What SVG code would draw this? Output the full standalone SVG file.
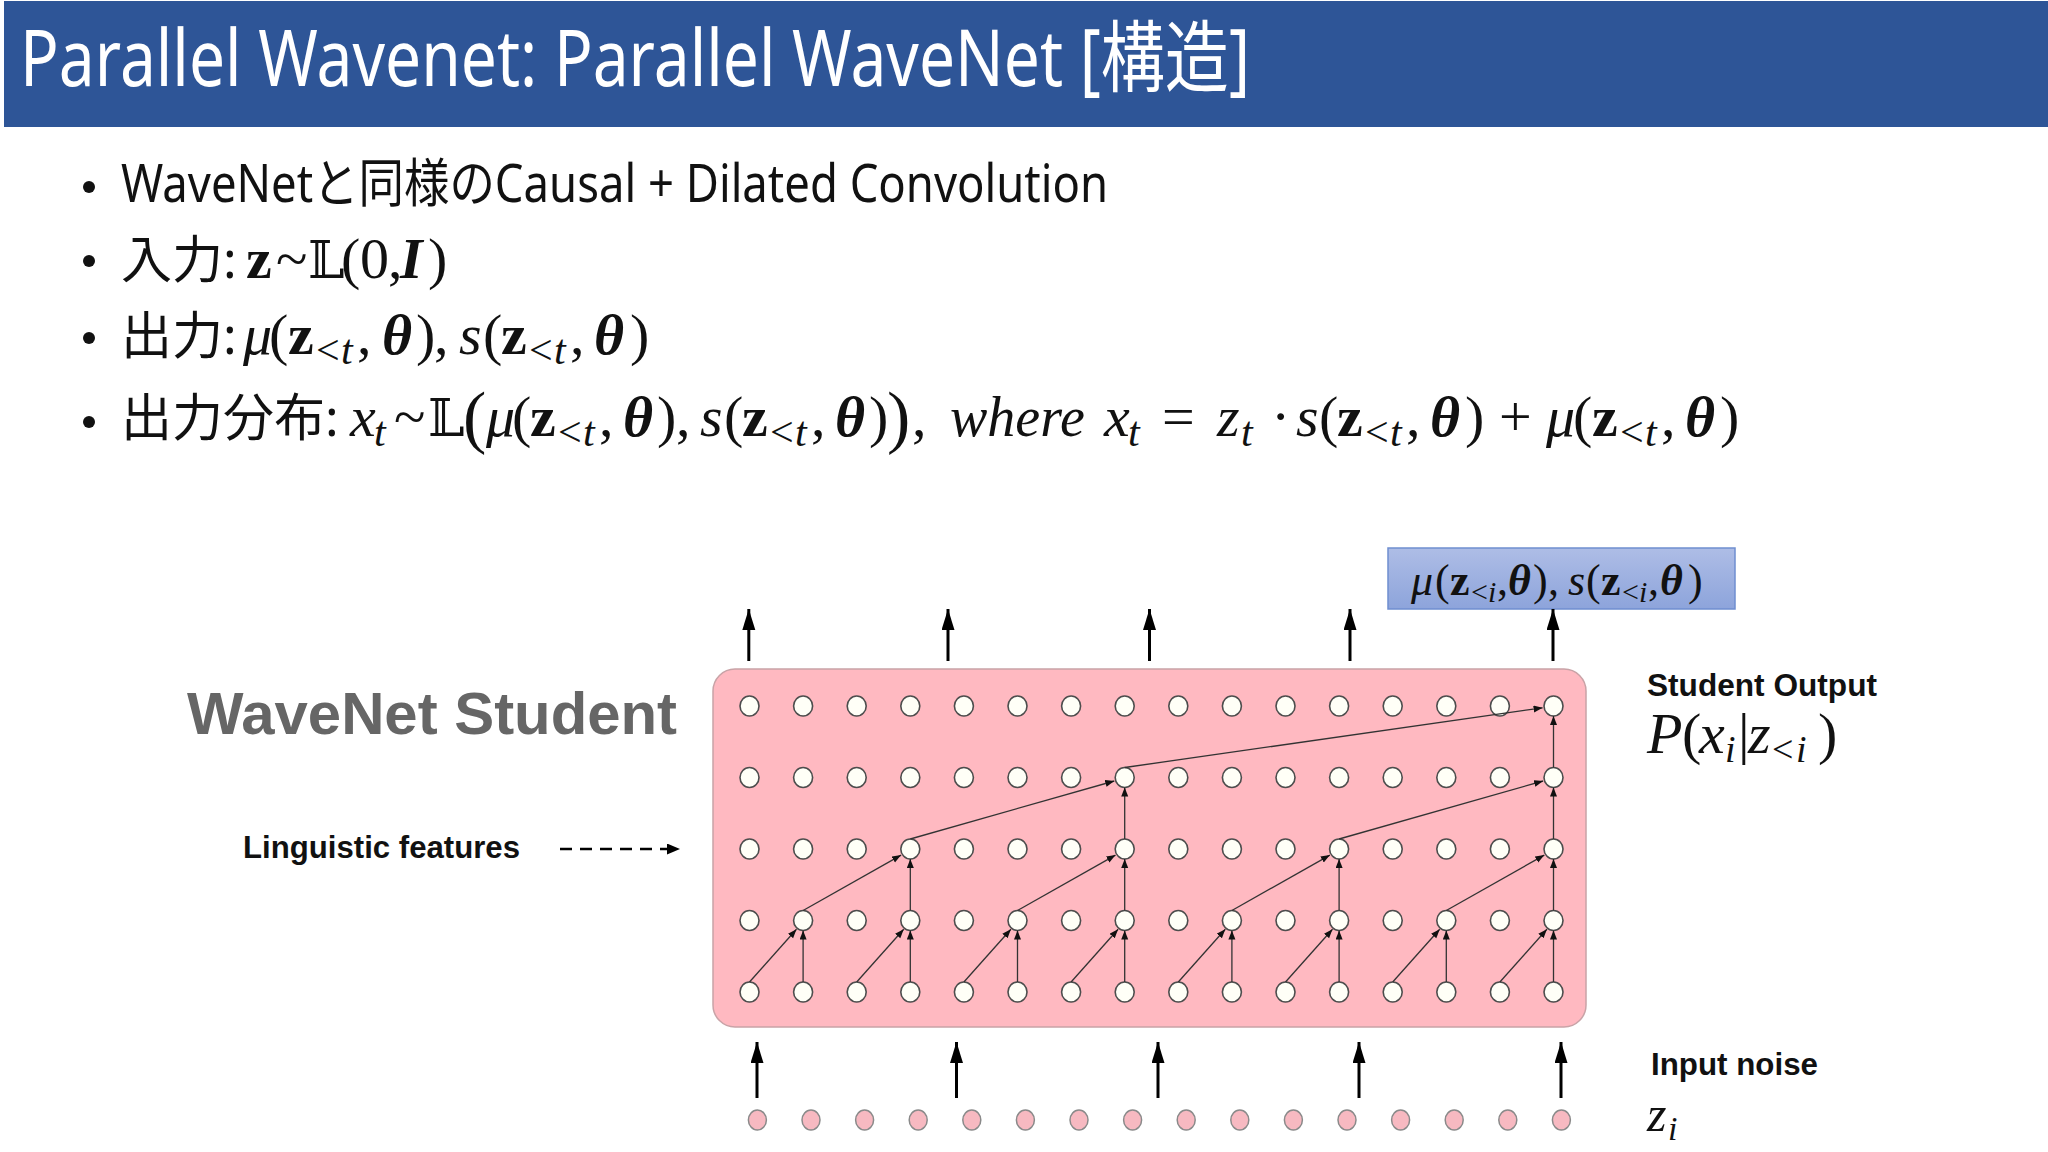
<svg xmlns="http://www.w3.org/2000/svg" width="2048" height="1152" viewBox="0 0 2048 1152">
<style>
.jp{font-family:"Noto Sans","Noto Sans CJK JP",sans-serif;fill:#111}
.m{font-family:"Liberation Serif","DejaVu Serif",serif;font-size:58px;fill:#111}
.i{font-style:italic}
.b{font-weight:bold}
.ds{font-family:"DejaVu Serif","DejaVu Sans",serif;font-size:52px}
.sub{font-size:42px}
.hv{font-family:"Liberation Sans",Arial,sans-serif;font-weight:bold}
.gn{fill:#FFFFF7;stroke:#4d4d4d;stroke-width:1.6}
.pn{fill:#F7B9C1;stroke:#8a8a8a;stroke-width:1.5}
.e{stroke:#333;stroke-width:1.3;fill:none;marker-end:url(#sa)}
.big{stroke:#000;stroke-width:3;fill:none;marker-end:url(#ba)}
</style>
<defs>
<marker id="sa" markerUnits="userSpaceOnUse" markerWidth="10" markerHeight="8" refX="9" refY="3.5" orient="auto"><path d="M0,0 L9,3.5 L0,7 z" fill="#111"/></marker>
<marker id="ba" markerUnits="userSpaceOnUse" markerWidth="22" markerHeight="14" refX="21" refY="6.5" orient="auto"><path d="M0,0 L21,6.5 L0,13 z" fill="#000"/></marker>
<marker id="da" markerUnits="userSpaceOnUse" markerWidth="14" markerHeight="12" refX="13" refY="5.5" orient="auto"><path d="M0,0 L13,5.5 L0,11 z" fill="#000"/></marker>
<linearGradient id="bg" x1="0" y1="0" x2="0" y2="1"><stop offset="0" stop-color="#AEBDE6"/><stop offset="1" stop-color="#8DA4DB"/></linearGradient>
</defs>
<rect x="0" y="0" width="2048" height="1152" fill="#fff"/>
<g id="header">
<rect x="4" y="1" width="2044" height="126" fill="#2E5597"/>
<text x="20" y="86" font-family="'Noto Sans','Noto Sans CJK JP',sans-serif" font-size="78" fill="#fff" textLength="1230" lengthAdjust="spacingAndGlyphs">Parallel Wavenet: Parallel WaveNet [構造]</text>
</g>
<g id="bullets">
<circle cx="89" cy="187" r="6" fill="#111"/>
<circle cx="89" cy="261" r="6" fill="#111"/>
<circle cx="89" cy="338" r="6" fill="#111"/>
<circle cx="89" cy="422" r="6" fill="#111"/>
<text class="jp" x="121" y="202" font-size="52" textLength="987" lengthAdjust="spacingAndGlyphs">WaveNetと同様のCausal + Dilated Convolution</text>
<text class="jp" x="121" y="278" font-size="51">入力:</text>
<text class="m" y="278"><tspan class="b" x="246">z</tspan><tspan x="276">~</tspan><tspan class="ds" x="308">𝕃</tspan><tspan x="341">(</tspan><tspan x="360">0</tspan><tspan x="388">,</tspan><tspan class="b i" x="400">I</tspan><tspan x="428">)</tspan></text>
<text class="jp" x="121" y="354" font-size="51">出力:</text>
<text class="m"><tspan class="i" x="243" y="354">μ</tspan><tspan x="269" y="354">(</tspan><tspan class="b" x="288" y="354">z</tspan><tspan class="sub" x="316" y="364">&lt;</tspan><tspan class="sub i" x="341" y="364">t</tspan><tspan x="357" y="354">,</tspan><tspan class="b i" x="382" y="354">θ</tspan><tspan x="416" y="354">)</tspan><tspan x="434" y="354">,</tspan><tspan class="i" x="459" y="354">s</tspan><tspan x="483" y="354">(</tspan><tspan class="b" x="501" y="354">z</tspan><tspan class="sub" x="529" y="364">&lt;</tspan><tspan class="sub i" x="554" y="364">t</tspan><tspan x="570" y="354">,</tspan><tspan class="b i" x="594" y="354">θ</tspan><tspan x="630" y="354">)</tspan></text>
<text class="jp" x="121" y="436" font-size="51">出力分布:</text>
<text class="m"><tspan class="i" x="350" y="436">x</tspan><tspan class="sub i" x="374" y="446">t</tspan><tspan x="394" y="436">~</tspan><tspan class="ds" x="428" y="436">𝕃</tspan><tspan x="463" y="440" style="font-size:70px">(</tspan><tspan class="i" x="486" y="436">μ</tspan><tspan x="512" y="436">(</tspan><tspan class="b" x="530" y="436">z</tspan><tspan class="sub" x="558" y="446">&lt;</tspan><tspan class="sub i" x="583" y="446">t</tspan><tspan x="599" y="436">,</tspan><tspan class="b i" x="623" y="436">θ</tspan><tspan x="657" y="436">)</tspan><tspan x="676" y="436">,</tspan><tspan class="i" x="700" y="436">s</tspan><tspan x="724" y="436">(</tspan><tspan class="b" x="742" y="436">z</tspan><tspan class="sub" x="770" y="446">&lt;</tspan><tspan class="sub i" x="795" y="446">t</tspan><tspan x="811" y="436">,</tspan><tspan class="b i" x="835" y="436">θ</tspan><tspan x="869" y="436">)</tspan><tspan x="887" y="440" style="font-size:70px">)</tspan><tspan x="912" y="436">,</tspan><tspan class="i" x="950" y="436" style="font-size:56px">where</tspan><tspan class="i" x="1104" y="436">x</tspan><tspan class="sub i" x="1128" y="446">t</tspan><tspan x="1162" y="436">=</tspan><tspan class="i" x="1217" y="436">z</tspan><tspan class="sub i" x="1241" y="446">t</tspan><tspan x="1271" y="436">·</tspan><tspan class="i" x="1296" y="436">s</tspan><tspan x="1319" y="436">(</tspan><tspan class="b" x="1337" y="436">z</tspan><tspan class="sub" x="1365" y="446">&lt;</tspan><tspan class="sub i" x="1390" y="446">t</tspan><tspan x="1406" y="436">,</tspan><tspan class="b i" x="1430" y="436">θ</tspan><tspan x="1465" y="436">)</tspan><tspan x="1499" y="436">+</tspan><tspan class="i" x="1546" y="436">μ</tspan><tspan x="1573" y="436">(</tspan><tspan class="b" x="1592" y="436">z</tspan><tspan class="sub" x="1620" y="446">&lt;</tspan><tspan class="sub i" x="1645" y="446">t</tspan><tspan x="1661" y="436">,</tspan><tspan class="b i" x="1685" y="436">θ</tspan><tspan x="1720" y="436">)</tspan></text>
</g>
<g id="student-box"><rect x="713" y="669" width="873" height="358" rx="22" fill="#FFB9C1" stroke="#c9a3a7" stroke-width="1.5"/></g>
<g id="output-box">
<rect x="1388" y="548" width="347" height="61" fill="url(#bg)" stroke="#6F8ED0" stroke-width="1.5"/>
<text class="m" style="font-size:44px"><tspan class="i" x="1411" y="595">μ</tspan><tspan x="1435" y="595">(</tspan><tspan class="b" x="1450" y="595">z</tspan><tspan x="1471" y="602" style="font-size:30px">&lt;</tspan><tspan class="i" x="1488" y="602" style="font-size:30px">i</tspan><tspan x="1497" y="595">,</tspan><tspan class="b i" x="1508" y="595">θ</tspan><tspan x="1533" y="595">)</tspan><tspan x="1548" y="595">,</tspan><tspan class="i" x="1568" y="595">s</tspan><tspan x="1586" y="595">(</tspan><tspan class="b" x="1601" y="595">z</tspan><tspan x="1622" y="602" style="font-size:30px">&lt;</tspan><tspan class="i" x="1639" y="602" style="font-size:30px">i</tspan><tspan x="1648" y="595">,</tspan><tspan class="b i" x="1660" y="595">θ</tspan><tspan x="1688" y="595">)</tspan></text>
</g>
<g id="label-wavenet-student"><text class="hv" x="187" y="734" font-size="60" fill="#666" textLength="490" lengthAdjust="spacingAndGlyphs">WaveNet Student</text></g>
<g id="label-linguistic"><text class="hv" x="243" y="858" font-size="31" fill="#111" textLength="277" lengthAdjust="spacingAndGlyphs">Linguistic features</text></g>
<g id="label-student-output"><text class="hv" x="1647" y="696" font-size="31" fill="#111" textLength="230" lengthAdjust="spacingAndGlyphs">Student Output</text></g>
<g id="label-p"><text class="m" style="font-size:58px"><tspan class="i" x="1647" y="753">P</tspan><tspan x="1682" y="753">(</tspan><tspan class="i" x="1699" y="753">x</tspan><tspan class="i" x="1725" y="762" style="font-size:38px">i</tspan><tspan x="1738" y="753">|</tspan><tspan class="i" x="1748" y="753">z</tspan><tspan x="1772" y="762" style="font-size:38px">&lt;</tspan><tspan class="i" x="1796" y="762" style="font-size:38px">i</tspan><tspan x="1818" y="753">)</tspan></text></g>
<g id="label-input-noise"><text class="hv" x="1651" y="1075" font-size="31" fill="#111" textLength="167" lengthAdjust="spacingAndGlyphs">Input noise</text></g>
<g id="label-zi"><text class="m i" style="font-size:50px"><tspan x="1647" y="1131">z</tspan><tspan x="1668" y="1140" style="font-size:34px">i</tspan></text></g>
<g id="grid-nodes">
<g id="g-r4-c0"><ellipse cx="749.5" cy="706" rx="9.5" ry="10" class="gn"/></g>
<g id="g-r4-c1"><ellipse cx="803.1" cy="706" rx="9.5" ry="10" class="gn"/></g>
<g id="g-r4-c2"><ellipse cx="856.7" cy="706" rx="9.5" ry="10" class="gn"/></g>
<g id="g-r4-c3"><ellipse cx="910.3" cy="706" rx="9.5" ry="10" class="gn"/></g>
<g id="g-r4-c4"><ellipse cx="963.9" cy="706" rx="9.5" ry="10" class="gn"/></g>
<g id="g-r4-c5"><ellipse cx="1017.5" cy="706" rx="9.5" ry="10" class="gn"/></g>
<g id="g-r4-c6"><ellipse cx="1071.1" cy="706" rx="9.5" ry="10" class="gn"/></g>
<g id="g-r4-c7"><ellipse cx="1124.7" cy="706" rx="9.5" ry="10" class="gn"/></g>
<g id="g-r4-c8"><ellipse cx="1178.3" cy="706" rx="9.5" ry="10" class="gn"/></g>
<g id="g-r4-c9"><ellipse cx="1231.9" cy="706" rx="9.5" ry="10" class="gn"/></g>
<g id="g-r4-c10"><ellipse cx="1285.5" cy="706" rx="9.5" ry="10" class="gn"/></g>
<g id="g-r4-c11"><ellipse cx="1339.1" cy="706" rx="9.5" ry="10" class="gn"/></g>
<g id="g-r4-c12"><ellipse cx="1392.7" cy="706" rx="9.5" ry="10" class="gn"/></g>
<g id="g-r4-c13"><ellipse cx="1446.3" cy="706" rx="9.5" ry="10" class="gn"/></g>
<g id="g-r4-c14"><ellipse cx="1499.9" cy="706" rx="9.5" ry="10" class="gn"/></g>
<g id="g-r4-c15"><ellipse cx="1553.5" cy="706" rx="9.5" ry="10" class="gn"/></g>
<g id="g-r3-c0"><ellipse cx="749.5" cy="777.5" rx="9.5" ry="10" class="gn"/></g>
<g id="g-r3-c1"><ellipse cx="803.1" cy="777.5" rx="9.5" ry="10" class="gn"/></g>
<g id="g-r3-c2"><ellipse cx="856.7" cy="777.5" rx="9.5" ry="10" class="gn"/></g>
<g id="g-r3-c3"><ellipse cx="910.3" cy="777.5" rx="9.5" ry="10" class="gn"/></g>
<g id="g-r3-c4"><ellipse cx="963.9" cy="777.5" rx="9.5" ry="10" class="gn"/></g>
<g id="g-r3-c5"><ellipse cx="1017.5" cy="777.5" rx="9.5" ry="10" class="gn"/></g>
<g id="g-r3-c6"><ellipse cx="1071.1" cy="777.5" rx="9.5" ry="10" class="gn"/></g>
<g id="g-r3-c7"><ellipse cx="1124.7" cy="777.5" rx="9.5" ry="10" class="gn"/></g>
<g id="g-r3-c8"><ellipse cx="1178.3" cy="777.5" rx="9.5" ry="10" class="gn"/></g>
<g id="g-r3-c9"><ellipse cx="1231.9" cy="777.5" rx="9.5" ry="10" class="gn"/></g>
<g id="g-r3-c10"><ellipse cx="1285.5" cy="777.5" rx="9.5" ry="10" class="gn"/></g>
<g id="g-r3-c11"><ellipse cx="1339.1" cy="777.5" rx="9.5" ry="10" class="gn"/></g>
<g id="g-r3-c12"><ellipse cx="1392.7" cy="777.5" rx="9.5" ry="10" class="gn"/></g>
<g id="g-r3-c13"><ellipse cx="1446.3" cy="777.5" rx="9.5" ry="10" class="gn"/></g>
<g id="g-r3-c14"><ellipse cx="1499.9" cy="777.5" rx="9.5" ry="10" class="gn"/></g>
<g id="g-r3-c15"><ellipse cx="1553.5" cy="777.5" rx="9.5" ry="10" class="gn"/></g>
<g id="g-r2-c0"><ellipse cx="749.5" cy="849" rx="9.5" ry="10" class="gn"/></g>
<g id="g-r2-c1"><ellipse cx="803.1" cy="849" rx="9.5" ry="10" class="gn"/></g>
<g id="g-r2-c2"><ellipse cx="856.7" cy="849" rx="9.5" ry="10" class="gn"/></g>
<g id="g-r2-c3"><ellipse cx="910.3" cy="849" rx="9.5" ry="10" class="gn"/></g>
<g id="g-r2-c4"><ellipse cx="963.9" cy="849" rx="9.5" ry="10" class="gn"/></g>
<g id="g-r2-c5"><ellipse cx="1017.5" cy="849" rx="9.5" ry="10" class="gn"/></g>
<g id="g-r2-c6"><ellipse cx="1071.1" cy="849" rx="9.5" ry="10" class="gn"/></g>
<g id="g-r2-c7"><ellipse cx="1124.7" cy="849" rx="9.5" ry="10" class="gn"/></g>
<g id="g-r2-c8"><ellipse cx="1178.3" cy="849" rx="9.5" ry="10" class="gn"/></g>
<g id="g-r2-c9"><ellipse cx="1231.9" cy="849" rx="9.5" ry="10" class="gn"/></g>
<g id="g-r2-c10"><ellipse cx="1285.5" cy="849" rx="9.5" ry="10" class="gn"/></g>
<g id="g-r2-c11"><ellipse cx="1339.1" cy="849" rx="9.5" ry="10" class="gn"/></g>
<g id="g-r2-c12"><ellipse cx="1392.7" cy="849" rx="9.5" ry="10" class="gn"/></g>
<g id="g-r2-c13"><ellipse cx="1446.3" cy="849" rx="9.5" ry="10" class="gn"/></g>
<g id="g-r2-c14"><ellipse cx="1499.9" cy="849" rx="9.5" ry="10" class="gn"/></g>
<g id="g-r2-c15"><ellipse cx="1553.5" cy="849" rx="9.5" ry="10" class="gn"/></g>
<g id="g-r1-c0"><ellipse cx="749.5" cy="920.5" rx="9.5" ry="10" class="gn"/></g>
<g id="g-r1-c1"><ellipse cx="803.1" cy="920.5" rx="9.5" ry="10" class="gn"/></g>
<g id="g-r1-c2"><ellipse cx="856.7" cy="920.5" rx="9.5" ry="10" class="gn"/></g>
<g id="g-r1-c3"><ellipse cx="910.3" cy="920.5" rx="9.5" ry="10" class="gn"/></g>
<g id="g-r1-c4"><ellipse cx="963.9" cy="920.5" rx="9.5" ry="10" class="gn"/></g>
<g id="g-r1-c5"><ellipse cx="1017.5" cy="920.5" rx="9.5" ry="10" class="gn"/></g>
<g id="g-r1-c6"><ellipse cx="1071.1" cy="920.5" rx="9.5" ry="10" class="gn"/></g>
<g id="g-r1-c7"><ellipse cx="1124.7" cy="920.5" rx="9.5" ry="10" class="gn"/></g>
<g id="g-r1-c8"><ellipse cx="1178.3" cy="920.5" rx="9.5" ry="10" class="gn"/></g>
<g id="g-r1-c9"><ellipse cx="1231.9" cy="920.5" rx="9.5" ry="10" class="gn"/></g>
<g id="g-r1-c10"><ellipse cx="1285.5" cy="920.5" rx="9.5" ry="10" class="gn"/></g>
<g id="g-r1-c11"><ellipse cx="1339.1" cy="920.5" rx="9.5" ry="10" class="gn"/></g>
<g id="g-r1-c12"><ellipse cx="1392.7" cy="920.5" rx="9.5" ry="10" class="gn"/></g>
<g id="g-r1-c13"><ellipse cx="1446.3" cy="920.5" rx="9.5" ry="10" class="gn"/></g>
<g id="g-r1-c14"><ellipse cx="1499.9" cy="920.5" rx="9.5" ry="10" class="gn"/></g>
<g id="g-r1-c15"><ellipse cx="1553.5" cy="920.5" rx="9.5" ry="10" class="gn"/></g>
<g id="g-r0-c0"><ellipse cx="749.5" cy="992" rx="9.5" ry="10" class="gn"/></g>
<g id="g-r0-c1"><ellipse cx="803.1" cy="992" rx="9.5" ry="10" class="gn"/></g>
<g id="g-r0-c2"><ellipse cx="856.7" cy="992" rx="9.5" ry="10" class="gn"/></g>
<g id="g-r0-c3"><ellipse cx="910.3" cy="992" rx="9.5" ry="10" class="gn"/></g>
<g id="g-r0-c4"><ellipse cx="963.9" cy="992" rx="9.5" ry="10" class="gn"/></g>
<g id="g-r0-c5"><ellipse cx="1017.5" cy="992" rx="9.5" ry="10" class="gn"/></g>
<g id="g-r0-c6"><ellipse cx="1071.1" cy="992" rx="9.5" ry="10" class="gn"/></g>
<g id="g-r0-c7"><ellipse cx="1124.7" cy="992" rx="9.5" ry="10" class="gn"/></g>
<g id="g-r0-c8"><ellipse cx="1178.3" cy="992" rx="9.5" ry="10" class="gn"/></g>
<g id="g-r0-c9"><ellipse cx="1231.9" cy="992" rx="9.5" ry="10" class="gn"/></g>
<g id="g-r0-c10"><ellipse cx="1285.5" cy="992" rx="9.5" ry="10" class="gn"/></g>
<g id="g-r0-c11"><ellipse cx="1339.1" cy="992" rx="9.5" ry="10" class="gn"/></g>
<g id="g-r0-c12"><ellipse cx="1392.7" cy="992" rx="9.5" ry="10" class="gn"/></g>
<g id="g-r0-c13"><ellipse cx="1446.3" cy="992" rx="9.5" ry="10" class="gn"/></g>
<g id="g-r0-c14"><ellipse cx="1499.9" cy="992" rx="9.5" ry="10" class="gn"/></g>
<g id="g-r0-c15"><ellipse cx="1553.5" cy="992" rx="9.5" ry="10" class="gn"/></g>
</g>
<g id="noise-nodes">
<g id="z-0"><ellipse cx="757.4" cy="1120" rx="9" ry="10" class="pn"/></g>
<g id="z-1"><ellipse cx="811" cy="1120" rx="9" ry="10" class="pn"/></g>
<g id="z-2"><ellipse cx="864.6" cy="1120" rx="9" ry="10" class="pn"/></g>
<g id="z-3"><ellipse cx="918.2" cy="1120" rx="9" ry="10" class="pn"/></g>
<g id="z-4"><ellipse cx="971.8" cy="1120" rx="9" ry="10" class="pn"/></g>
<g id="z-5"><ellipse cx="1025.4" cy="1120" rx="9" ry="10" class="pn"/></g>
<g id="z-6"><ellipse cx="1079" cy="1120" rx="9" ry="10" class="pn"/></g>
<g id="z-7"><ellipse cx="1132.6" cy="1120" rx="9" ry="10" class="pn"/></g>
<g id="z-8"><ellipse cx="1186.2" cy="1120" rx="9" ry="10" class="pn"/></g>
<g id="z-9"><ellipse cx="1239.8" cy="1120" rx="9" ry="10" class="pn"/></g>
<g id="z-10"><ellipse cx="1293.4" cy="1120" rx="9" ry="10" class="pn"/></g>
<g id="z-11"><ellipse cx="1347" cy="1120" rx="9" ry="10" class="pn"/></g>
<g id="z-12"><ellipse cx="1400.6" cy="1120" rx="9" ry="10" class="pn"/></g>
<g id="z-13"><ellipse cx="1454.2" cy="1120" rx="9" ry="10" class="pn"/></g>
<g id="z-14"><ellipse cx="1507.8" cy="1120" rx="9" ry="10" class="pn"/></g>
<g id="z-15"><ellipse cx="1561.4" cy="1120" rx="9" ry="10" class="pn"/></g>
</g>
<g id="connectors">
<path class="e" d="M749.5,982 L796.5,929.3"/><path class="e" d="M803.1,982 L803.1,930.5"/>
<path class="e" d="M856.7,982 L903.7,929.3"/><path class="e" d="M910.3,982 L910.3,930.5"/>
<path class="e" d="M963.9,982 L1010.9,929.3"/><path class="e" d="M1017.5,982 L1017.5,930.5"/>
<path class="e" d="M1071.1,982 L1118.1,929.3"/><path class="e" d="M1124.7,982 L1124.7,930.5"/>
<path class="e" d="M1178.3,982 L1225.3,929.3"/><path class="e" d="M1231.9,982 L1231.9,930.5"/>
<path class="e" d="M1285.5,982 L1332.5,929.3"/><path class="e" d="M1339.1,982 L1339.1,930.5"/>
<path class="e" d="M1392.7,982 L1439.7,929.3"/><path class="e" d="M1446.3,982 L1446.3,930.5"/>
<path class="e" d="M1499.9,982 L1546.9,929.3"/><path class="e" d="M1553.5,982 L1553.5,930.5"/>
<path class="e" d="M803.1,910.5 L901.1,855.1"/><path class="e" d="M910.3,910.5 L910.3,859"/>
<path class="e" d="M1017.5,910.5 L1115.5,855.1"/><path class="e" d="M1124.7,910.5 L1124.7,859"/>
<path class="e" d="M1231.9,910.5 L1329.9,855.1"/><path class="e" d="M1339.1,910.5 L1339.1,859"/>
<path class="e" d="M1446.3,910.5 L1544.3,855.1"/><path class="e" d="M1553.5,910.5 L1553.5,859"/>
<path class="e" d="M910.3,839 L1114.3,781"/><path class="e" d="M1124.7,839 L1124.7,787.5"/>
<path class="e" d="M1339.1,839 L1543.1,781"/><path class="e" d="M1553.5,839 L1553.5,787.5"/>
<path class="e" d="M1124.7,767.5 L1542.6,707.8"/><path class="e" d="M1553.5,767.5 L1553.5,716"/>
<path class="big" d="M748.8,661 L748.8,609"/>
<path class="big" d="M948,661 L948,609"/>
<path class="big" d="M1149.5,661 L1149.5,609"/>
<path class="big" d="M1350,661 L1350,609"/>
<path class="big" d="M1553,661 L1553,609"/>
<path class="big" d="M757,1098 L757,1042"/>
<path class="big" d="M956.5,1098 L956.5,1042"/>
<path class="big" d="M1158,1098 L1158,1042"/>
<path class="big" d="M1359,1098 L1359,1042"/>
<path class="big" d="M1561,1098 L1561,1042"/>
<path d="M560,849 L680,849" stroke="#000" stroke-width="2.5" stroke-dasharray="12 8" fill="none" marker-end="url(#da)"/>
</g>
</svg>
